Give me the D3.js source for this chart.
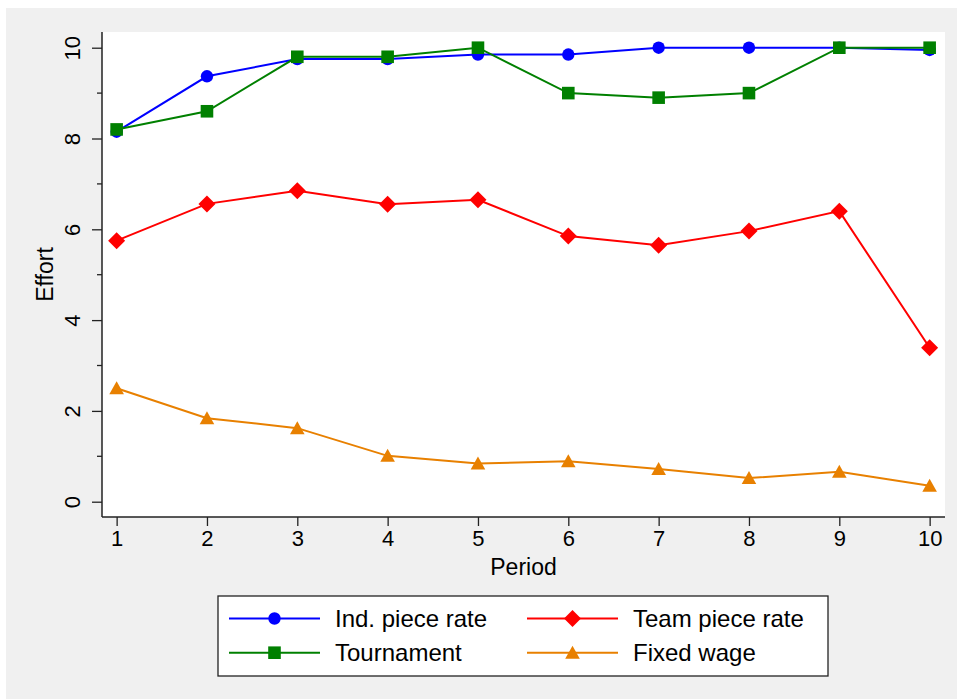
<!DOCTYPE html>
<html>
<head>
<meta charset="utf-8">
<script src="https://cdn.jsdelivr.net/npm/d3@7"></script>
<style>
  body { margin: 0; background: #fff; }
  svg { display: block; font-family: "Liberation Sans", Arial, sans-serif; }
</style>
</head>
<body>
<div id="chart"></div>
<script>
// data
let periods = [1, 2, 3, 4, 5, 6, 7, 8, 9, 10];
let indPieceRate = [8.15, 9.37, 9.75, 9.75, 9.85, 9.85, 10.0, 10.0, 10.0, 9.95];
let tournament = [8.2, 8.6, 9.8, 9.8, 10.0, 9.0, 8.9, 9.0, 10.0, 10.0];
let teamPieceRate = [5.75, 6.56, 6.85, 6.55, 6.65, 5.85, 5.65, 5.96, 6.4, 3.39];
let fixedWage = [2.5, 1.84, 1.62, 1.01, 0.84, 0.89, 0.72, 0.52, 0.66, 0.35];
let yTicks = [0, 2, 4, 6, 8, 10];
let yMinorTicks = [1, 3, 5, 7, 9];
let seriesNames = ["Ind. piece rate", "Team piece rate", "Tournament", "Fixed wage"];

let W = 957, H = 699;
let plot = {left: 102, top: 32, right: 945, bottom: 517};

let svg = d3.select("#chart").append("svg")
    .attr("width", W)
    .attr("height", H);

// outer grey frame
svg.append("rect")
    .attr("x", 6).attr("y", 8)
    .attr("width", W - 6).attr("height", H - 8)
    .attr("fill", "#f0f0f0");

// plot region
svg.append("rect")
    .attr("x", plot.left).attr("y", plot.top)
    .attr("width", plot.right - plot.left).attr("height", plot.bottom - plot.top)
    .attr("fill", "#fff");

let x = d3.scaleLinear()
    .domain([0.838, 10.17])
    .range([plot.left, plot.right]);

let y = d3.scaleLinear()
    .domain([-0.337, 10.346])
    .range([plot.bottom, plot.top]);

// x axis
let xAxis = svg.append("g")
    .attr("transform", "translate(0," + plot.bottom + ")")
    .call(d3.axisBottom(x).tickValues(periods).tickSize(9).tickPadding(4).tickSizeOuter(0));
xAxis.select(".domain").attr("stroke", "#222").attr("stroke-width", 1.5)
    .attr("d", "M" + plot.left + ",0H" + plot.right);
xAxis.selectAll(".tick line").attr("stroke", "#222").attr("stroke-width", 1.3);
xAxis.selectAll(".tick text")
    .attr("font-size", "22px")
    .attr("fill", "#000")
    .attr("font-family", "Liberation Sans, Arial, sans-serif");

// y axis
let yAxis = svg.append("g")
    .attr("transform", "translate(" + plot.left + ",0)")
    .call(d3.axisLeft(y).tickValues(yTicks).tickSize(10).tickFormat(d3.format("d")).tickSizeOuter(0));
yAxis.select(".domain").attr("stroke", "#222").attr("stroke-width", 1.5)
    .attr("d", "M0," + plot.top + "V" + plot.bottom);
yAxis.selectAll(".tick line").attr("stroke", "#222").attr("stroke-width", 1.3);
yAxis.selectAll(".tick text")
    .attr("font-size", "22px")
    .attr("fill", "#000")
    .attr("font-family", "Liberation Sans, Arial, sans-serif")
    .attr("text-anchor", "middle")
    .attr("x", 0).attr("dy", 0)
    .attr("transform", "translate(-22,0) rotate(-90)");

// minor y ticks
svg.append("g").selectAll("line")
    .data(yMinorTicks)
    .enter().append("line")
    .attr("x1", plot.left - 5).attr("x2", plot.left)
    .attr("y1", d => y(d)).attr("y2", d => y(d))
    .attr("stroke", "#222").attr("stroke-width", 1.3);

// axis titles
svg.append("text")
    .attr("x", (plot.left + plot.right) / 2)
    .attr("y", 575)
    .attr("text-anchor", "middle")
    .attr("font-size", "23px")
    .text("Period");

svg.append("text")
    .attr("transform", "translate(53," + ((plot.top + plot.bottom) / 2) + ") rotate(-90)")
    .attr("text-anchor", "middle")
    .attr("font-size", "23px")
    .text("Effort");

// marker shapes
let markerPath = {
    circle: "M6.2,0A6.2,6.2 0 1,1 -6.2,0A6.2,6.2 0 1,1 6.2,0Z",
    square: "M-6.3,-6.3H6.3V6.3H-6.3Z",
    diamond: "M0,-8.5L8.5,0L0,8.5L-8.5,0Z",
    triangle: "M0,-7L7.3,6L-7.3,6Z"
};

let series = [
    {name: seriesNames[0], values: indPieceRate, color: "#0000ff", shape: "circle"},
    {name: seriesNames[1], values: teamPieceRate, color: "#ff0000", shape: "diamond"},
    {name: seriesNames[2], values: tournament, color: "#008000", shape: "square"},
    {name: seriesNames[3], values: fixedWage, color: "#e88000", shape: "triangle"}
];

let line = d3.line()
    .x(d => x(d[0]))
    .y(d => y(d[1]));

series.forEach(function (s) {
    let pts = periods.map((p, i) => [p, s.values[i]]);
    let g = svg.append("g");
    g.append("path")
        .datum(pts)
        .attr("fill", "none")
        .attr("stroke", s.color)
        .attr("stroke-width", 2)
        .attr("d", line);
    g.selectAll("path.mk")
        .data(pts)
        .enter().append("path")
        .attr("class", "mk")
        .attr("d", markerPath[s.shape])
        .attr("transform", d => "translate(" + x(d[0]) + "," + y(d[1]) + ")")
        .attr("fill", s.color);
});

// legend
let legend = svg.append("g");
legend.append("rect")
    .attr("x", 218).attr("y", 596)
    .attr("width", 610).attr("height", 80)
    .attr("fill", "#fff")
    .attr("stroke", "#222")
    .attr("stroke-width", 1.3);

let legendPos = [
    {x: 229, y: 618.5},
    {x: 527, y: 618.5},
    {x: 229, y: 652.7},
    {x: 527, y: 652.7}
];

series.forEach(function (s, i) {
    let p = legendPos[i];
    legend.append("line")
        .attr("x1", p.x).attr("x2", p.x + 91)
        .attr("y1", p.y).attr("y2", p.y)
        .attr("stroke", s.color)
        .attr("stroke-width", 2);
    legend.append("path")
        .attr("d", markerPath[s.shape])
        .attr("transform", "translate(" + (p.x + 45.5) + "," + p.y + ")")
        .attr("fill", s.color);
    legend.append("text")
        .attr("x", p.x + 106)
        .attr("y", p.y + 8.5)
        .attr("font-size", "24px")
        .text(s.name);
});
</script>
</body>
</html>
